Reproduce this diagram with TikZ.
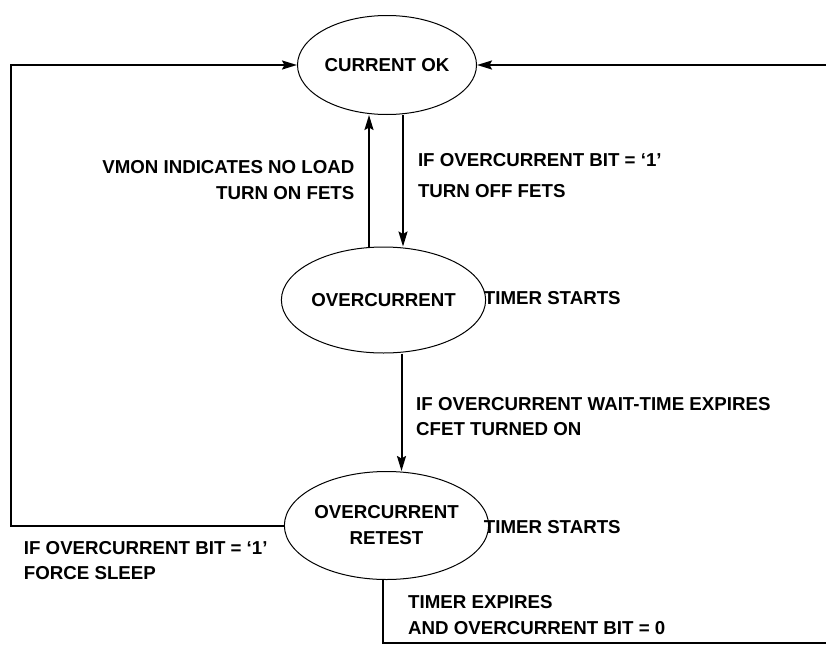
\documentclass[tikz,border=0pt]{standalone}
\usepackage{fontspec}
\setmainfont{Liberation Sans}
\usetikzlibrary{shapes.geometric,arrows.meta}

\begin{document}
\begin{tikzpicture}[x=1pt,y=-1pt,
  font=\bfseries\fontsize{18.7}{26}\selectfont,
  state/.style={draw,ellipse,line width=1pt,inner sep=0pt,minimum width=179pt,align=center},
  lbl/.style={inner sep=0pt,text height=13.3pt,text depth=0pt},
  conn/.style={line width=2pt},
  tip/.style={-{Stealth[length=15pt,width=9pt,inset=2.5pt]}}]
\useasboundingbox (0,0) rectangle (826,645);
%states
\node[state,minimum height=99pt] (ok) at (387,65) {CURRENT OK};
\node[state,minimum height=106pt] (oc) at (383.5,300) {OVERCURRENT};
\node[state,minimum height=108pt] (rt) at (386.5,525.5) {OVERCURRENT\\RETEST};
%free ends of the lines
\coordinate (upx) at (369,0);
\coordinate (dnx) at (403,0);
\coordinate (midx) at (401.5,0);
\coordinate (outx) at (383,0);
\coordinate (lft) at (10.5,0);
\coordinate (rtop) at (827,65);
\coordinate (rbot) at (827,642.5);
%connectors
\draw[conn,tip] (oc.north -| upx) -- (ok.south -| upx);
\draw[conn,tip] (ok.south -| dnx) -- (oc.north -| dnx);
\draw[conn,tip] (oc.south -| midx) -- (rt.north -| midx);
\draw[conn,tip] (rt.west) -- (rt.west -| lft) |- (ok.west);
\draw[conn,tip] (rtop) -- (ok.east);
\draw[conn] (rt.south -| outx) |- (rbot);
%labels
\node[lbl,anchor=east] (on1) at (354.6,166.6) {VMON INDICATES NO LOAD};
\node[lbl,anchor=east] (on2) at (354.6,192.5) {TURN ON FETS};
\node[lbl,anchor=west] (off1) at (417.8,159.6) {IF OVERCURRENT BIT = ‘1’};
\node[lbl,anchor=west] (off2) at (417.8,191.3) {TURN OFF FETS};
\node[lbl,anchor=west] (ts1) at (483.7,298) {TIMER STARTS};
\node[lbl,anchor=west] (wt1) at (416,404) {IF OVERCURRENT WAIT-TIME EXPIRES};
\node[lbl,anchor=west] (wt2) at (416,428.6) {CFET TURNED ON};
\node[lbl,anchor=west] (ts2) at (483.7,527) {TIMER STARTS};
\node[lbl,anchor=west] (fs1) at (23.7,548) {IF OVERCURRENT BIT = ‘1’};
\node[lbl,anchor=west] (fs2) at (23.7,572.6) {FORCE SLEEP};
\node[lbl,anchor=west] (te1) at (408,601.8) {TIMER EXPIRES};
\node[lbl,anchor=west] (te2) at (408,628) {AND OVERCURRENT BIT = 0};
\end{tikzpicture}
\end{document}
